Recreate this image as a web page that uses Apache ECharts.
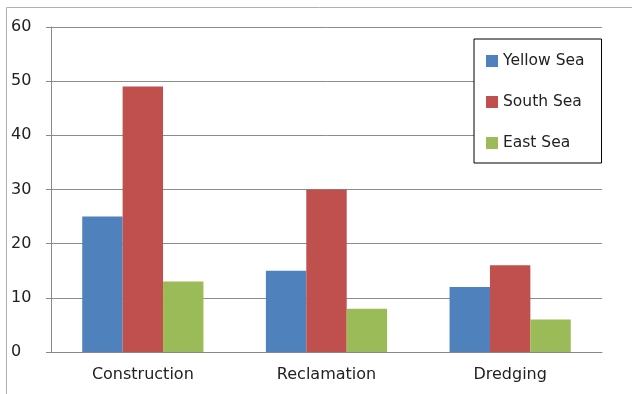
<!DOCTYPE html>
<html>
<head>
<meta charset="utf-8">
<script src="https://cdn.jsdelivr.net/npm/echarts@6/dist/echarts.min.js"></script>
<style>
  html, body { margin: 0; padding: 0; background: #fff; }
  #chart { width: 632px; height: 394px; }
</style>
</head>
<body>
<div id="chart"></div>
<script>
const categories = ["Construction", "Reclamation", "Dredging"];
const yellowSea = [25, 15, 12];
const southSea = [49, 30, 16];
const eastSea = [13, 8, 6];

const font = "'DejaVu Sans', sans-serif";
const chart = echarts.init(document.getElementById("chart"));

chart.setOption({
  animation: false,
  backgroundColor: "#fff",
  graphic: [
    { type: "line", shape: { x1: 6.5, y1: 7.5, x2: 632, y2: 7.5 }, style: { stroke: "#b0b0b0", lineWidth: 1 } },
    { type: "line", shape: { x1: 6.5, y1: 7.5, x2: 6.5, y2: 394 }, style: { stroke: "#b0b0b0", lineWidth: 1 } }
  ],
  grid: { left: 51, right: 30, top: 27, bottom: 42 },
  legend: {
    orient: "vertical",
    left: 474,
    top: 39,
    padding: [14, 17, 12, 12],
    itemWidth: 12,
    itemHeight: 12,
    itemGap: 25,
    icon: "rect",
    backgroundColor: "#fff",
    borderColor: "#000",
    borderWidth: 1,
    textStyle: { fontFamily: font, fontSize: 15.5, lineHeight: 16, color: "#222" },
    data: ["Yellow Sea", "South Sea", "East Sea"]
  },
  xAxis: {
    type: "category",
    data: categories,
    axisLine: { lineStyle: { color: "#888" } },
    axisTick: { length: 5, lineStyle: { color: "#888" } },
    axisLabel: { margin: 15, fontFamily: font, fontSize: 16, color: "#222" }
  },
  yAxis: {
    type: "value",
    min: 0,
    max: 60,
    interval: 10,
    axisLine: { show: true, lineStyle: { color: "#888" } },
    axisTick: { show: true, length: 5, lineStyle: { color: "#888" } },
    splitLine: { lineStyle: { color: "#8c8c8c" } },
    axisLabel: { align: "left", margin: 40, padding: [3, 0, 0, 0], fontFamily: font, fontSize: 16, color: "#222" }
  },
  series: [
    { name: "Yellow Sea", type: "bar", data: yellowSea, itemStyle: { color: "#4f81bd" }, barGap: "0%", barCategoryGap: "34%" },
    { name: "South Sea", type: "bar", data: southSea, itemStyle: { color: "#c0504d" } },
    { name: "East Sea", type: "bar", data: eastSea, itemStyle: { color: "#9bbb59" } }
  ]
});
</script>
</body>
</html>
